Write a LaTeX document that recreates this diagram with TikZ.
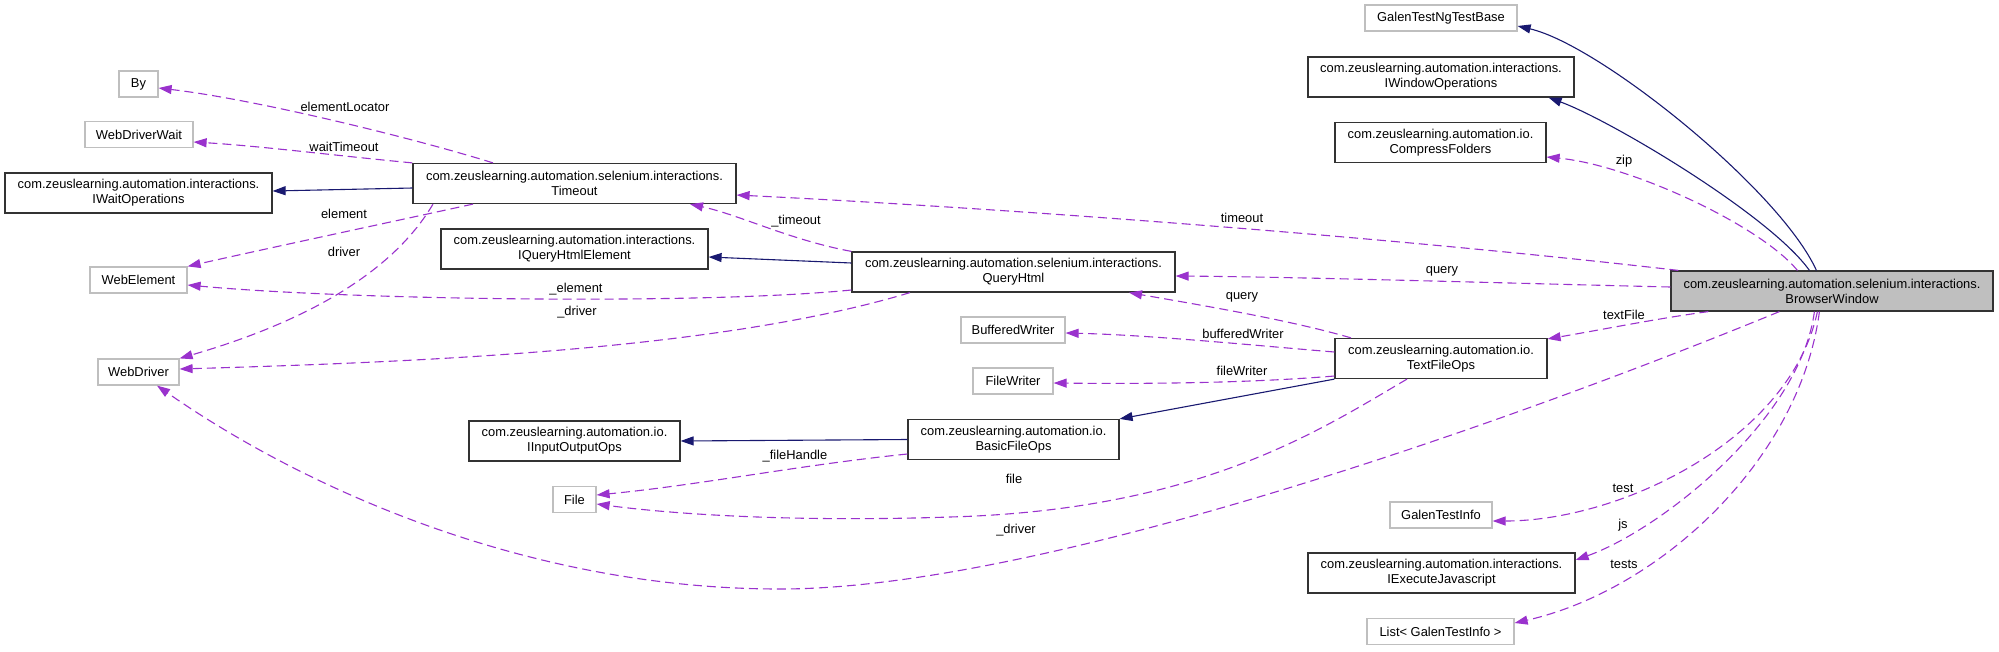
\documentclass[tikz,border=0pt]{standalone}
\usepackage{fontspec}
\setmainfont{Liberation Sans}
\usepackage{xcolor}
\usepackage{tikz}
\usetikzlibrary{arrows.meta}

\definecolor{dxpurple}{HTML}{9A32CD}
\definecolor{dxblue}{HTML}{191970}
\newcommand\dxfont{\fontsize{12.9}{15}\selectfont}

\begin{document}
\begin{tikzpicture}[
  x=1pt,y=-1pt,
  cls/.style={draw=black!80,fill=white,line width=1.2pt,minimum height=40pt,inner sep=0pt,align=center,font=\dxfont},
  ext/.style={draw=black!25,fill=white,line width=1.2pt,minimum height=26pt,inner sep=0pt,align=center,font=\dxfont},
  main/.style={cls,fill=black!25},
  usage/.style={draw=dxpurple,line width=1.1pt,dash pattern=on 9pt off 5pt,-{Triangle[length=13pt,width=9pt]}},
  inh/.style={draw=dxblue,line width=1.1pt,-{Triangle[length=13pt,width=9pt]}},
  lbl/.style={font=\dxfont,inner sep=0pt}
]
\useasboundingbox (0,0) rectangle (1999,651);

% classes, column by column
\node[ext,minimum width=39pt]  (by)  at (138.5,84)  {By};
\node[ext,minimum width=108pt] (wdw) at (139,134.5) {WebDriverWait};
\node[cls,minimum width=267pt] (iwt) at (138.5,193) {com.zeuslearning.automation.interactions.\\IWaitOperations};
\node[ext,minimum width=97pt]  (we)  at (138.5,280) {WebElement};
\node[ext,minimum width=81pt]  (wd)  at (138.5,372) {WebDriver};

\node[cls,minimum width=323pt] (tmo) at (574.5,183.5) {com.zeuslearning.automation.selenium.interactions.\\Timeout};
\node[cls,minimum width=267pt] (iqe) at (574.5,249)   {com.zeuslearning.automation.interactions.\\IQueryHtmlElement};
\node[cls,minimum width=211pt] (iio) at (574.5,441)   {com.zeuslearning.automation.io.\\IInputOutputOps};
\node[ext,minimum width=43pt]  (fil) at (574.5,499.5) {File};

\node[cls,minimum width=323pt] (qh)  at (1013.5,272)   {com.zeuslearning.automation.selenium.interactions.\\QueryHtml};
\node[ext,minimum width=104pt] (bwr) at (1013,330)     {BufferedWriter};
\node[ext,minimum width=80pt]  (fw)  at (1013,381)     {FileWriter};
\node[cls,minimum width=211pt] (bfo) at (1013.5,439.5) {com.zeuslearning.automation.io.\\BasicFileOps};

\node[ext,minimum width=152pt] (gtb) at (1441,18)     {GalenTestNgTestBase};
\node[cls,minimum width=266pt] (iwo) at (1441,77)     {com.zeuslearning.automation.interactions.\\IWindowOperations};
\node[cls,minimum width=211pt] (cf)  at (1440.5,142.5){com.zeuslearning.automation.io.\\CompressFolders};
\node[cls,minimum width=212pt] (tfo) at (1441,358.5)  {com.zeuslearning.automation.io.\\TextFileOps};
\node[ext,minimum width=102pt] (gti) at (1441,515)    {GalenTestInfo};
\node[cls,minimum width=267pt] (iej) at (1441.5,573)  {com.zeuslearning.automation.interactions.\\IExecuteJavascript};
\node[ext,minimum width=147pt] (lst) at (1440.5,631.5){List< GalenTestInfo >};

\node[main,minimum width=322pt] (bw) at (1832,291) {com.zeuslearning.automation.selenium.interactions.\\BrowserWindow};

% BrowserWindow
\draw[inh] ([xshift=146pt]bw.north west) .. controls (1780,190) and (1600,45) .. ([yshift=-8pt]gtb.east);
\draw[inh] ([xshift=139pt]bw.north west) .. controls (1770,215) and (1610,120) .. ([xshift=-26pt]iwo.south east);
\draw[usage] ([xshift=127pt]bw.north west) .. controls (1760,225) and (1630,165) .. ([yshift=-14.5pt]cf.east);
\draw[usage] ([xshift=8pt]bw.north west) .. controls (1380,236) and (1000,208) .. ([yshift=-11.5pt]tmo.east);
\draw[usage] ([yshift=4pt]bw.west) .. controls (1500,283) and (1300,277) .. ([yshift=-4pt]qh.east);
\draw[usage] ([xshift=38pt]bw.south west) .. controls (1660,318) and (1600,330) .. ([yshift=-1pt]tfo.north east);
\draw[usage] ([xshift=109pt]bw.south west) .. controls (1540,410) and (1050,589) .. (780,589)
  .. controls (530,589) and (307,490) .. ([xshift=18.5pt]wd.south);
\draw[usage] ([xshift=147pt]bw.south west) .. controls (1790,440) and (1620,521) .. ([yshift=-6pt]gti.east);
\draw[usage] ([xshift=144pt]bw.south west) .. controls (1800,420) and (1660,530) .. ([yshift=13pt]iej.east);
\draw[usage] ([xshift=149pt]bw.south west) .. controls (1800,460) and (1660,590) .. ([yshift=8.5pt]lst.east);

% QueryHtml
\draw[inh] ([yshift=9pt]qh.west) -- ([yshift=-8pt]iqe.east);
\draw[usage] (qh.north west) .. controls (790,240) and (740,215) .. ([xshift=115.5pt]tmo.south);
\draw[usage] ([yshift=-18pt]qh.west) .. controls (700,305) and (350,300) .. ([yshift=-5pt]we.east);
\draw[usage] ([xshift=-103.5pt]qh.south) .. controls (720,350) and (420,362) .. ([yshift=3pt]wd.east);

% Timeout
\draw[usage] ([xshift=-81.5pt]tmo.north) .. controls (420,140) and (260,100) .. ([yshift=-4pt]by.east);
\draw[usage] (tmo.north west) .. controls (330,155) and (260,146) .. ([yshift=-7.5pt]wdw.east);
\draw[inh] ([yshift=-4.5pt]tmo.west) -- ([yshift=2pt]iwt.east);
\draw[usage] ([xshift=-101.5pt]tmo.south) .. controls (400,220) and (260,250) .. (we.north east);
\draw[usage] ([xshift=-141.5pt]tmo.south) .. controls (400,260) and (329,315) .. (wd.north east);

% TextFileOps, BasicFileOps
\draw[usage] ([xshift=-90pt]tfo.north) .. controls (1290,320) and (1200,305) .. ([xshift=115.5pt]qh.south);
\draw[usage] ([yshift=6.5pt]tfo.west) .. controls (1250,345) and (1150,335) .. ([yshift=-3pt]bwr.east);
\draw[usage] ([yshift=-17.5pt]tfo.west) .. controls (1250,383) and (1150,384) .. ([yshift=-2pt]fw.east);
\draw[inh] (tfo.south west) -- (bfo.north east);
\draw[usage] ([xshift=-34pt]tfo.south) .. controls (1320,430) and (1200,510) .. (950,517)
  .. controls (800,522) and (680,515) .. ([yshift=-4.5pt]fil.east);
\draw[inh] (bfo.west) -- (iio.east);
\draw[usage] ([yshift=-14.5pt]bfo.west) .. controls (800,465) and (700,485) .. ([yshift=4.5pt]fil.east);

% member names
\node[lbl] (lElemLoc) at (345,107)  {elementLocator};
\node[lbl] (lWait)    at (344,147)  {waitTimeout};
\node[lbl] (lElem)    at (344,214)  {element};
\node[lbl] (lDrv)     at (344,252)  {driver};
\node[lbl] (lTmo)     at (796,221)  {\_timeout};
\node[lbl] (lElemQ)   at (576,289)  {\_element};
\node[lbl] (lDrvQ)    at (577,312)  {\_driver};
\node[lbl] (lTimeout) at (1242,218) {timeout};
\node[lbl] (lQuery)   at (1442,271) {query};
\node[lbl] (lQueryT)  at (1242,297) {query};
\node[lbl] (lBufW)    at (1243,334) {bufferedWriter};
\node[lbl] (lFileW)   at (1242,371) {fileWriter};
\node[lbl] (lHandle)  at (795,456)  {\_fileHandle};
\node[lbl] (lFile)    at (1014,479) {file};
\node[lbl] (lDrvB)    at (1016,530) {\_driver};
\node[lbl] (lZip)     at (1624,161) {zip};
\node[lbl] (lText)    at (1624,315) {textFile};
\node[lbl] (lTest)    at (1623,488) {test};
\node[lbl] (lJs)      at (1623,525) {js};
\node[lbl] (lTests)   at (1624,564) {tests};
\end{tikzpicture}
\end{document}
